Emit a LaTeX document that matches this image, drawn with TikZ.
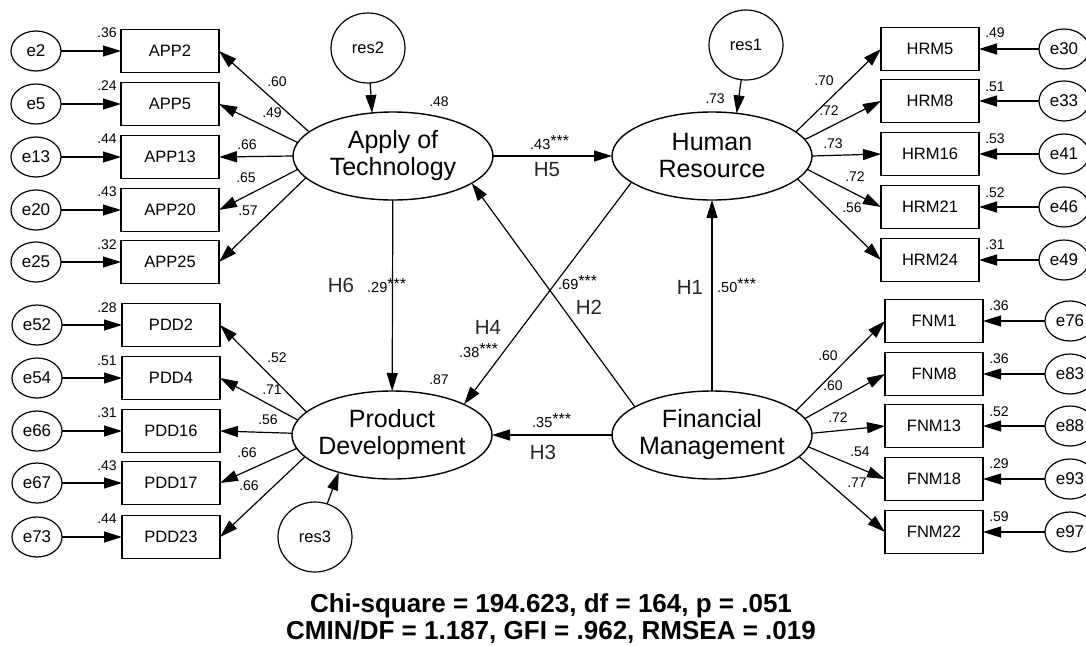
\documentclass[tikz,border=0pt]{standalone}
\usepackage{fontspec}
\setmainfont{Liberation Sans}
\usetikzlibrary{arrows.meta, shapes.geometric}
\newcommand{\sig}{{\fontsize{16}{16}\selectfont\raisebox{2.5pt}{***}}}
\tikzset{
    latent/.style={draw, ellipse, line width=1.4pt, minimum width=200pt, minimum height=88pt, inner sep=0pt, outer sep=0pt},
    lattext/.style={align=center, font=\fontsize{25}{27}\selectfont, inner sep=0pt},
    item/.style={draw, rectangle, line width=1.4pt, minimum width=98pt, minimum height=43pt, inner sep=0pt, outer sep=0pt, font=\fontsize{16.5}{18}\selectfont},
    errc/.style={draw, ellipse, line width=1.2pt, minimum width=50pt, minimum height=40pt, inner sep=0pt, outer sep=0pt, font=\fontsize{17}{18}\selectfont},
    resc/.style={draw, ellipse, line width=1.2pt, minimum width=74pt, minimum height=70pt, inner sep=0pt, outer sep=0pt, font=\fontsize{16.5}{18}\selectfont},
    arr/.style={-{Triangle[length=18pt, width=11pt]}, line width=1.2pt},
    val/.style={font=\fontsize{14}{16}\selectfont, inner sep=0pt},
    coef/.style={font=\fontsize{14.5}{16}\selectfont, inner sep=0pt, anchor=base west},
    hyp/.style={font=\fontsize{20.5}{22}\selectfont, text=black!85, inner sep=0pt},
    fitstat/.style={font=\bfseries\fontsize{26}{28}\selectfont, inner sep=0pt}
}

\begin{document}
\begin{tikzpicture}[x=1pt, y=-1pt]
    \useasboundingbox[fill=white] (0,0) rectangle (1086,645);
    % Latent variables
    \node[latent, label={[lattext]center:Apply of\\Technology}] (AoT) at (393,156) {};
    \node[latent, label={[lattext]center:Human\\Resource}] (HR) at (712,156) {};
    \node[latent, label={[lattext]center:Product\\Development}] (PD) at (392,435) {};
    \node[latent, label={[lattext]center:Financial\\Management}] (FM) at (712,435) {};
    % Residuals
    \node[resc] (res2) at (368,48) {res2};
    \node[resc] (res1) at (746,45) {res1};
    \node[resc] (res3) at (315,537) {res3};
    \draw[arr] (res2) -- (AoT.116);
    \draw[arr] (res1) -- (HR.60);
    \draw[arr] (res3) -- (PD.215);
    \node[val] (r2AoT) at (439,102) {.48};
    \node[val] (r2HR) at (715,99) {.73};
    \node[val] (r2PD) at (439,380) {.87};

    % Apply of Technology indicators
    \node[errc] (e2) at (36,51) {e2};   \node[item] (APP2) at (170,51) {APP2};
    \node[errc] (e5) at (36,104) {e5};  \node[item] (APP5) at (170,104) {APP5};
    \node[errc] (e13) at (36,157) {e13}; \node[item] (APP13) at (170,157) {APP13};
    \node[errc] (e20) at (36,210) {e20}; \node[item] (APP20) at (170,210) {APP20};
    \node[errc] (e25) at (36,262) {e25}; \node[item] (APP25) at (170,262) {APP25};
    \draw[arr] (e2) -- (APP2);   \draw[arr] (AoT.164) -- (APP2.east);
    \draw[arr] (e5) -- (APP5);   \draw[arr] (AoT.172) -- (APP5.east);
    \draw[arr] (e13) -- (APP13); \draw[arr] (AoT.180) -- (APP13.east);
    \draw[arr] (e20) -- (APP20); \draw[arr] (AoT.188) -- (APP20.east);
    \draw[arr] (e25) -- (APP25); \draw[arr] (AoT.194) -- (APP25.east);
    \node[val] (vAPP2) at (107,33) {.36};  \node[val] (lAPP2) at (277,82) {.60};
    \node[val] (vAPP5) at (107,86) {.24};  \node[val] (lAPP5) at (272,113) {.49};
    \node[val] (vAPP13) at (107,139) {.44}; \node[val] (lAPP13) at (247,145) {.66};
    \node[val] (vAPP20) at (107,192) {.43}; \node[val] (lAPP20) at (246,178) {.65};
    \node[val] (vAPP25) at (107,245) {.32}; \node[val] (lAPP25) at (248,211) {.57};

    % Product Development indicators
    \node[errc] (e52) at (37,325) {e52}; \node[item] (PDD2) at (171,325) {PDD2};
    \node[errc] (e54) at (37,378) {e54}; \node[item] (PDD4) at (171,378) {PDD4};
    \node[errc] (e66) at (37,431) {e66}; \node[item] (PDD16) at (171,431) {PDD16};
    \node[errc] (e67) at (37,483) {e67}; \node[item] (PDD17) at (171,483) {PDD17};
    \node[errc] (e73) at (37,537) {e73}; \node[item] (PDD23) at (171,537) {PDD23};
    \draw[arr] (e52) -- (PDD2);  \draw[arr] (PD.165) -- (PDD2.east);
    \draw[arr] (e54) -- (PDD4);  \draw[arr] (PD.171) -- (PDD4.east);
    \draw[arr] (e66) -- (PDD16); \draw[arr] (PD.179) -- (PDD16.east);
    \draw[arr] (e67) -- (PDD17); \draw[arr] (PD.188) -- (PDD17.east);
    \draw[arr] (e73) -- (PDD23); \draw[arr] (PD.194) -- (PDD23.east);
    \node[val] (vPDD2) at (107,308) {.28};  \node[val] (lPDD2) at (277,358) {.52};
    \node[val] (vPDD4) at (107,361) {.51};  \node[val] (lPDD4) at (272,390) {.71};
    \node[val] (vPDD16) at (107,413) {.31}; \node[val] (lPDD16) at (268,420) {.56};
    \node[val] (vPDD17) at (107,466) {.43}; \node[val] (lPDD17) at (247,453) {.66};
    \node[val] (vPDD23) at (107,519) {.44}; \node[val] (lPDD23) at (249,486) {.66};

    % Human Resource indicators
    \node[item] (HRM5) at (930,49) {HRM5};   \node[errc] (e30) at (1064,49) {e30};
    \node[item] (HRM8) at (930,101) {HRM8};  \node[errc] (e33) at (1064,101) {e33};
    \node[item] (HRM16) at (930,154) {HRM16}; \node[errc] (e41) at (1064,154) {e41};
    \node[item] (HRM21) at (930,207) {HRM21}; \node[errc] (e46) at (1064,207) {e46};
    \node[item] (HRM24) at (930,260) {HRM24}; \node[errc] (e49) at (1064,260) {e49};
    \draw[arr] (e30) -- (HRM5);  \draw[arr] (HR.16) -- (HRM5.west);
    \draw[arr] (e33) -- (HRM8);  \draw[arr] (HR.10) -- (HRM8.west);
    \draw[arr] (e41) -- (HRM16); \draw[arr] (HR.0) -- (HRM16.west);
    \draw[arr] (e46) -- (HRM21); \draw[arr] (HR.352) -- (HRM21.west);
    \draw[arr] (e49) -- (HRM24); \draw[arr] (HR.345) -- (HRM24.west);
    \node[val] (vHRM5) at (995,33) {.49};  \node[val] (lHRM5) at (824,81) {.70};
    \node[val] (vHRM8) at (995,87) {.51};  \node[val] (lHRM8) at (829,111) {.72};
    \node[val] (vHRM16) at (995,139) {.53}; \node[val] (lHRM16) at (833,144) {.73};
    \node[val] (vHRM21) at (995,193) {.52}; \node[val] (lHRM21) at (855,177) {.72};
    \node[val] (vHRM24) at (995,245) {.31}; \node[val] (lHRM24) at (852,208) {.56};

    % Financial Management indicators
    \node[item] (FNM1) at (934,321) {FNM1};   \node[errc] (e76) at (1070,321) {e76};
    \node[item] (FNM8) at (934,374) {FNM8};   \node[errc] (e83) at (1070,374) {e83};
    \node[item] (FNM13) at (934,426) {FNM13}; \node[errc] (e88) at (1070,426) {e88};
    \node[item] (FNM18) at (934,479) {FNM18}; \node[errc] (e93) at (1070,479) {e93};
    \node[item] (FNM22) at (934,532) {FNM22}; \node[errc] (e97) at (1070,532) {e97};
    \draw[arr] (e76) -- (FNM1);  \draw[arr] (FM.16) -- (FNM1.west);
    \draw[arr] (e83) -- (FNM8);  \draw[arr] (FM.10) -- (FNM8.west);
    \draw[arr] (e88) -- (FNM13); \draw[arr] (FM.1) -- (FNM13.west);
    \draw[arr] (e93) -- (FNM18); \draw[arr] (FM.353) -- (FNM18.west);
    \draw[arr] (e97) -- (FNM22); \draw[arr] (FM.346) -- (FNM22.west);
    \node[val] (vFNM1) at (999,306) {.36};  \node[val] (lFNM1) at (828,356) {.60};
    \node[val] (vFNM8) at (999,359) {.36};  \node[val] (lFNM8) at (833,386) {.60};
    \node[val] (vFNM13) at (999,412) {.52}; \node[val] (lFNM13) at (838,418) {.72};
    \node[val] (vFNM18) at (999,464) {.29}; \node[val] (lFNM18) at (860,452) {.54};
    \node[val] (vFNM22) at (999,517) {.59}; \node[val] (lFNM22) at (857,483) {.77};

    % Structural paths
    \draw[arr] (AoT) -- (HR);
    \draw[arr] (AoT) -- (PD);
    \draw[arr] (HR.198) -- (PD.23);
    \draw[arr] (FM.160) -- (AoT.341);
    \draw[arr] (FM) -- (HR);
    \draw[arr] (FM) -- (PD);
    % Hypotheses and coefficients
    \node[coef] (c5) at (530,149) {.43\sig};
    \node[hyp] (H5) at (547,170) {H5};
    \node[coef] (c6) at (367,292) {.29\sig};
    \node[hyp] (H6) at (341,285) {H6};
    \node[coef] (c2) at (558,289) {.69\sig};
    \node[hyp] (H2) at (589,307) {H2};
    \node[coef] (c1) at (717,292) {.50\sig};
    \node[hyp] (H1) at (690,287) {H1};
    \node[coef] (c4) at (459,357) {.38\sig};
    \node[hyp] (H4) at (488,327) {H4};
    \node[coef] (c3) at (532,427) {.35\sig};
    \node[hyp] (H3) at (543,452) {H3};

    % Model fit
    \node[fitstat] (chi) at (551,606) {Chi-square = 194.623, df = 164, p = .051};
    \node[fitstat] (cmin) at (551,632) {CMIN/DF = 1.187, GFI = .962, RMSEA = .019};
\end{tikzpicture}
\end{document}
